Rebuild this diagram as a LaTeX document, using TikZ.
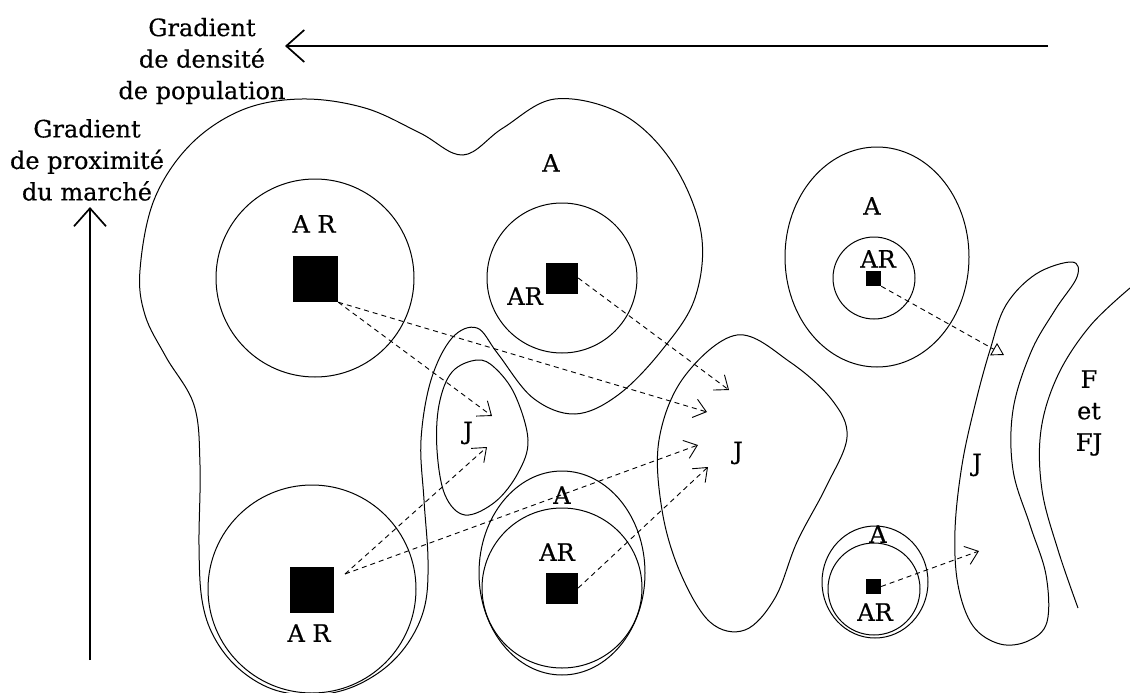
\documentclass[tikz,border=0pt]{standalone}
\usepackage{fontspec}
\setmainfont{DejaVu Serif}[FakeBold=0.4]
\usetikzlibrary{arrows.meta, positioning}

\begin{document}
\begin{tikzpicture}[x=1pt, y=-1pt]
   \fontsize{24pt}{31.5pt}\selectfont
    % --- STYLES ---
    \tikzstyle{zone} = [line width=1pt]
    \tikzstyle{site} = [rectangle, fill=black, inner sep=0pt]
    \tikzstyle{lbl} = [inner sep=0pt]
    \tikzstyle{gradient} = [-{Straight Barb[length=18pt, width=32pt]}, line width=1.7pt]
    \tikzstyle{flow} = [-{Straight Barb[length=12pt, width=19pt]}, line width=0.9pt, dash pattern=on 5pt off 4pt]

    \useasboundingbox (0,0) rectangle (1130,693);

    % --- ZONES ---
    % big A zone on the left
    \draw[zone] plot[smooth cycle, tension=0.6] coordinates {
      (140,270) (154,200) (190,145) (242,110) (302,99) (365,108) (420,133)
      (463,155) (503,128) (555,99) (622,114) (672,162) (701,232) (695,298)
      (662,350) (618,395) (575,414) (533,398) (498,354) (477,328) (452,338)
      (431,380) (421,440) (424,500) (428,560) (425,605) (410,640) (385,668)
      (350,688) (312,695) (272,689) (238,668) (214,637) (202,600) (199,545)
      (200,465) (194,405) (166,357) (145,315)};
    % J zones
    \draw[zone] plot[smooth cycle, tension=0.6] coordinates {
      (477,360) (452,372) (439,405) (437,450) (445,495) (465,515)
      (495,502) (518,473) (528,440) (515,395) (495,368)};
    \draw[zone] plot[smooth cycle, tension=0.6] coordinates {
      (737,335) (790,362) (832,400) (847,437) (826,487) (797,542)
      (775,598) (745,630) (710,622) (680,572) (662,510) (659,440) (684,377)};
    \draw[zone] plot[smooth cycle, tension=0.6] coordinates {
      (1072,262) (1077,277) (1055,310) (1031,352) (1013,410) (1013,470)
      (1030,525) (1046,575) (1047,622) (1028,641) (1000,644) (973,626)
      (958,585) (955,530) (962,465) (975,405) (990,350) (1006,305) (1036,274)};
    % F et FJ limit
    \draw[zone] plot[smooth, tension=0.6] coordinates {
      (1130,288) (1090,326) (1058,375) (1041,430) (1042,490) (1058,550) (1078,608)};

    % A and AR rings
    \draw[zone] (315,278) circle [radius=99];
    \draw[zone] (562,278) circle [radius=75];
    \draw[zone] (312,589) circle [radius=104];
    \draw[zone] (562,573) ellipse [x radius=83, y radius=102];
    \draw[zone] (562,588) circle [radius=80];
    \draw[zone] (877,257) ellipse [x radius=92, y radius=110];
    \draw[zone] (874,278) circle [radius=41];
    \draw[zone] (875,582) ellipse [x radius=53, y radius=56];
    \draw[zone] (874,589) circle [radius=46];

    % --- NODES ---
    \node (sqTL) [site, minimum width=45pt, minimum height=46pt] at (315.5,279) {};
    \node (sqMT) [site, minimum width=32pt, minimum height=31pt] at (562,278) {};
    \node (sqBL) [site, minimum width=44pt, minimum height=46pt] at (312,590) {};
    \node (sqBM) [site, minimum width=32pt, minimum height=31pt] at (562,588) {};
    \node (sqRT) [site, minimum size=15pt] at (873.5,278.5) {};
    \node (sqRB) [site, minimum size=15pt] at (873.5,586.5) {};

    \node (densite)   [lbl, align=center] at (202,61) {Gradient\\de densité\\de population};
    \node (proximite) [lbl, align=center] at (87,160) {Gradient\\de proximité\\du marché};

    \node (labTL)  [lbl] at (314,224) {A R};
    \node (labMT)  [lbl] at (525,296) {AR};
    \node (labA1)  [lbl] at (551,163) {A};
    \node (labJ1)  [lbl] at (468,433) {J};
    \node (labJ2)  [lbl] at (738,453) {J};
    \node (labBL)  [lbl] at (309,633) {A R};
    \node (labA2)  [lbl] at (562,495) {A};
    \node (labBM)  [lbl] at (557,552) {AR};
    \node (labA3)  [lbl] at (872,206) {A};
    \node (labRT)  [lbl] at (878,259) {AR};
    \node (labA4)  [lbl] at (878,534) {A};
    \node (labRB)  [lbl] at (875,612) {AR};
    \node (labJ3)  [lbl] at (977,465) {J};
    \node (labF)   [lbl, align=center] at (1089,413) {F\\et\\FJ};

    \coordinate (srcBL) at (345,574);
    \coordinate (densA) at (1048,46);
    \coordinate (densB) at (285,46);
    \coordinate (proxA) at (90,660);
    \coordinate (proxB) at (90,207);
    \coordinate (tip1) at (492,416);
    \coordinate (tip2) at (707,412);
    \coordinate (tip3) at (729,390);
    \coordinate (tip4) at (487,447);
    \coordinate (tip5) at (698,445);
    \coordinate (tip6) at (708,467);
    \coordinate (tip7) at (1004,355);
    \coordinate (tip8) at (979,551);

    % --- ARROWS ---
    \draw[gradient] (densA) -- (densB);
    \draw[gradient] (proxA) -- (proxB);

    \draw[flow] (sqTL.south east) -- (tip1);
    \draw[flow] (sqTL.south east) -- (tip2);
    \draw[flow] (sqMT.east) -- (tip3);
    \draw[flow] (srcBL) -- (tip4);
    \draw[flow] (srcBL) -- (tip5);
    \draw[flow] (sqBM.east) -- (tip6);
    \draw[flow, -{Triangle[open, length=12pt, width=14pt]}] (sqRT.south east) -- (tip7);
    \draw[flow] (sqRB.east) -- (tip8);

  \end{tikzpicture}
\end{document}
